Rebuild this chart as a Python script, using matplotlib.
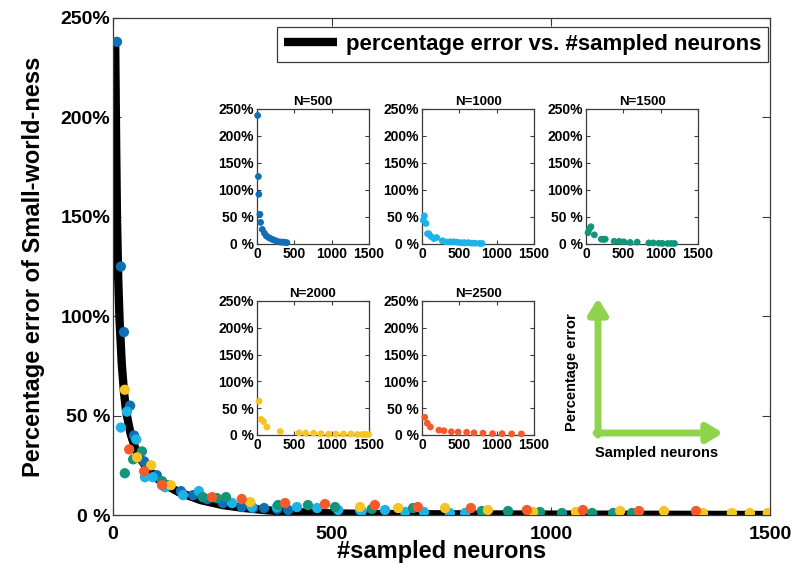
import matplotlib.pyplot as plt
from matplotlib.ticker import FixedLocator, FixedFormatter

plt.rcParams['font.family'] = ['Liberation Sans', 'DejaVu Sans']
plt.rcParams['font.weight'] = 'bold'

# fitted error curve
curve_x = [5, 7, 9, 12, 15, 20, 25, 30, 40, 50, 60, 80, 100, 125, 150, 200,
           250, 300, 350, 400, 500, 600, 800, 1000, 1250, 1500]
curve_y = [237, 190, 150, 118, 98, 76, 62, 52, 41, 34, 29, 23, 18.5, 14.5,
           11.5, 7.5, 5, 3.5, 2.4, 1.6, 0.8, 0.5, 0.3, 0.2, 0.1, 0.0]

# sampled points for each network size
n500_x = [9, 18, 25, 39, 48, 71, 100, 125, 155, 183, 215, 251, 294, 320, 345, 375, 400]
n500_y = [238, 125, 92, 55, 40, 27, 20, 15, 12, 10, 8, 6, 4, 3.5, 3.5, 3, 2.5]

n1000_x = [18, 32, 53, 73, 91, 119, 160, 196, 272, 317, 374, 420, 466, 514,
           564, 568, 621, 667, 710, 769, 804]
n1000_y = [44, 52, 38, 19, 19, 14, 10, 12, 6, 4, 4, 4, 3.5, 2.5,
           2.5, 2, 2.5, 1.5, 1.5, 1, 1]

n1500_x = [27, 46, 66, 112, 205, 237, 258, 377, 445, 507, 591, 685, 842,
           902, 975, 1025, 1094, 1142, 1185]
n1500_y = [21, 28, 32, 17, 9, 8.5, 9, 5, 5, 4, 3, 3.5, 2,
           2, 1.5, 1, 1, 1, 1]

n2000_x = [27, 55, 87, 132, 313, 564, 651, 758, 856, 959, 1057, 1158, 1258,
           1347, 1413, 1454, 1495]
n2000_y = [63, 29, 25, 15, 6.5, 4, 3.5, 3.5, 2.5, 1.5, 1.5, 2, 2,
           1, 1, 1, 1]

n2500_x = [37, 71, 112, 226, 294, 393, 484, 598, 696, 817, 945, 1073, 1201, 1331]
n2500_y = [33, 22, 15, 9, 8, 6, 5.5, 5, 4, 3.5, 2.5, 2.5, 2, 2]

series = [
    ('N=500', n500_x, n500_y, '#0f6fb5'),
    ('N=1000', n1000_x, n1000_y, '#1db2e8'),
    ('N=1500', n1500_x, n1500_y, '#13957a'),
    ('N=2000', n2000_x, n2000_y, '#f7c325'),
    ('N=2500', n2500_x, n2500_y, '#f55a2c'),
]

y_ticks = [0, 50, 100, 150, 200, 250]
y_labels = ['0 %', '50 %', '100%', '150%', '200%', '250%']
x_ticks = [0, 500, 1000, 1500]
frame_col = '#3a3a3a'


def style_axes(ax, size, tick_len, xpad=2):
    ax.set_xlim(0, 1500)
    ax.set_ylim(0, 250)
    ax.xaxis.set_major_locator(FixedLocator(x_ticks))
    ax.yaxis.set_major_locator(FixedLocator(y_ticks))
    ax.yaxis.set_major_formatter(FixedFormatter(y_labels))
    ax.tick_params(direction='in', top=True, right=True, length=tick_len,
                   width=0.8, color=frame_col, labelsize=size, pad=2)
    ax.tick_params(axis='x', pad=xpad)
    for lab in ax.get_xticklabels() + ax.get_yticklabels():
        lab.set_fontweight('bold')
    for sp in ax.spines.values():
        sp.set_color(frame_col)
        sp.set_linewidth(0.9)


fig = plt.figure(figsize=(7.92, 5.74), dpi=100)

ax = fig.add_axes([113 / 792, 59 / 574, 657 / 792, 497 / 574])
ax.plot(curve_x, curve_y, color='black', lw=6, solid_capstyle='butt',
        label='percentage error vs. #sampled neurons', zorder=2)
for name, xs, ys, col in series:
    ax.scatter(xs, ys, s=55, color=col, edgecolors='none', zorder=3)
style_axes(ax, 14, 6, xpad=8)
ax.set_xlabel('#sampled neurons', fontsize=17, fontweight='bold', labelpad=-2)
ax.set_ylabel('Percentage error of Small-world-ness', fontsize=17, fontweight='bold', labelpad=11)
leg = ax.legend(loc='upper right', bbox_to_anchor=(0.997, 0.981), borderaxespad=0,
                fontsize=16, handlelength=2.4, handletextpad=0.4, borderpad=0.3,
                fancybox=False, framealpha=1, edgecolor=frame_col)
for t in leg.get_texts():
    t.set_fontweight('bold')
leg.get_frame().set_linewidth(0.9)

# small panels, one per network size
inset_pos = [(257, 244, 135), (422, 244, 135), (586, 244, 135),
             (257, 435, 134), (422, 435, 134)]
for (name, xs, ys, col), (px, pb, ph) in zip(series, inset_pos):
    ia = fig.add_axes([px / 792, (574 - pb) / 574, 112 / 792, ph / 574])
    ia.scatter(xs, ys, s=24, color=col, edgecolors='none', clip_on=False, zorder=3)
    style_axes(ia, 10, 3)
    ia.set_title(name, fontsize=9.5, fontweight='bold', pad=3)

# axis legend drawn with arrows
arrow_kw = dict(arrowstyle='-|>,head_length=0.9,head_width=0.55',
                color='#8fd44c', lw=5, shrinkA=0, shrinkB=0)
fig.add_artist(plt.Annotation('', xy=(598 / 792, 1 - 298 / 574), xytext=(598 / 792, 1 - 435 / 574),
                              xycoords='figure fraction', arrowprops=arrow_kw))
fig.add_artist(plt.Annotation('', xy=(723 / 792, 1 - 433 / 574), xytext=(596 / 792, 1 - 433 / 574),
                              xycoords='figure fraction', arrowprops=arrow_kw))
fig.text(572 / 792, 1 - 372 / 574, 'Percentage error', rotation=90, ha='center',
         va='center', fontsize=10.5, fontweight='bold')
fig.text(657 / 792, 1 - 453 / 574, 'Sampled neurons', ha='center', va='center',
         fontsize=10.5, fontweight='bold')

fig.savefig('out.png', dpi=100, facecolor='white')
